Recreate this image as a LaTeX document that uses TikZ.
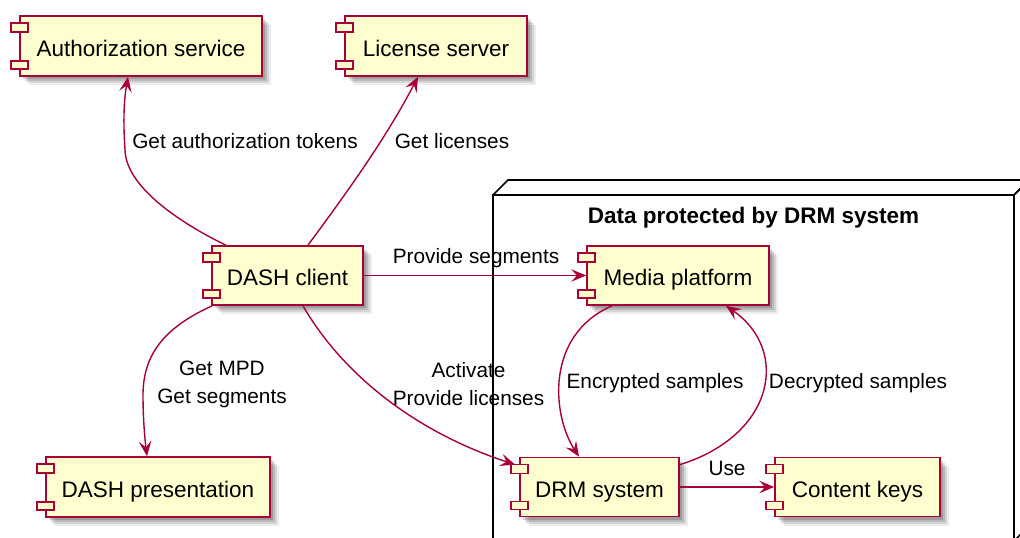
\documentclass[tikz,border=0pt]{standalone}
\usepackage{fontspec}
\setmainfont{Liberation Sans}
\usetikzlibrary{arrows.meta,shadows}
\definecolor{umlborder}{HTML}{A80036}
\definecolor{umlfill}{HTML}{FEFECE}
\tikzset{
  comp/.style={draw=umlborder, fill=umlfill, line width=1.7pt, inner sep=0pt,
    minimum height=59pt, font=\fontsize{22.5}{27}\selectfont, text=black,
    text height=20pt, text depth=0pt,
    drop shadow={shadow xshift=9pt, shadow yshift=-9pt, opacity=0.07, fill=black},
    drop shadow={shadow xshift=7pt, shadow yshift=-7pt, opacity=0.10, fill=black},
    drop shadow={shadow xshift=5pt, shadow yshift=-5pt, opacity=0.13, fill=black},
    drop shadow={shadow xshift=3pt, shadow yshift=-3pt, opacity=0.15, fill=black}},
  tabst/.style={draw=umlborder, fill=umlfill, line width=1.5pt},
  edge/.style={draw=umlborder, line width=1.4pt,
    -{Stealth[length=15pt,width=12.5pt,inset=6pt]}},
  lbl/.style={font=\fontsize{20.8}{28}\selectfont, inner sep=0pt, align=center, text=black},
  pkgline/.style={draw=black, line width=1.6pt, line join=miter},
  pkgtitle/.style={font=\fontsize{22.5}{27}\selectfont\bfseries, inner sep=0pt}
}
\begin{document}
\begin{tikzpicture}[x=1pt,y=-1pt]
\useasboundingbox (0,0) rectangle (1020,538);
\clip (0,0) rectangle (1020,538);
% package (3D node)
\draw[pkgline, fill=white] (493,195) rectangle (1014,541);
\draw[pkgline] (493,195) -- (508,180) -- (1029,180) -- (1014,195);
\draw[pkgline] (1014,195) -- (1029,180) -- (1029,526) -- (1014,541);
\node[pkgtitle] (title) at (753.5,218) {Data protected by DRM system};
% components
\node[comp, minimum width=242pt, minimum height=60pt] (auth) at (141,46) {Authorization service};
\node[comp, minimum width=182pt, minimum height=60pt] (lic) at (436,46) {License server};
\node[comp, minimum width=151pt] (client) at (287.5,275.5) {DASH client};
\node[comp, minimum width=224pt, minimum height=60pt] (pres) at (158,487) {DASH presentation};
\node[comp, minimum width=182pt] (media) at (678,275.5) {Media platform};
\node[comp, minimum width=159pt] (drm) at (599.5,487) {DRM system};
\node[comp, minimum width=165pt] (keys) at (857.5,487) {Content keys};
\foreach \n in {auth,lic,client,pres,media,drm,keys}{
  \draw[tabst] ([xshift=-8pt,yshift=-8pt]\n.north west) rectangle ([xshift=9pt,yshift=-17pt]\n.north west);
  \draw[tabst] ([xshift=-8pt,yshift=8pt]\n.south west) rectangle ([xshift=9pt,yshift=16pt]\n.south west);
}
% connectors
\draw[edge] ([xshift=-61.5pt]client.north) .. controls (190,228) and (126,190) .. (125,150)
  .. controls (123,120) and (124,100) .. ([xshift=-13pt]auth.south);
\draw[edge] ([xshift=20.5pt]client.north) .. controls (345,195) and (385,140) .. ([xshift=-18pt]lic.south);
\draw[edge] (client) -- (media);
\draw[edge] ([xshift=1pt]client.south west) .. controls (170,325) and (143,350) .. (143,395)
  .. controls (143,420) and (145,440) .. ([xshift=-11pt]pres.north);
\draw[edge] ([xshift=15.5pt]client.south) .. controls (340,370) and (410,430) .. ([xshift=-4pt,yshift=-8pt]drm.north west);
\draw[edge] ([xshift=-66pt]media.south) .. controls (545,335) and (552,415) .. ([xshift=-20.5pt]drm.north);
\draw[edge] ([yshift=-8pt]drm.north east) .. controls (775,435) and (790,350) .. ([xshift=48pt]media.south);
\draw[edge] (drm) -- (keys);
% labels
\node[lbl] (l1) at (245,141) {Get authorization tokens};
\node[lbl] (l2) at (452,141) {Get licenses};
\node[lbl] (l3) at (476,258) {Provide segments};
\node[lbl] (l4) at (222,384) {Get MPD\\Get segments};
\node[lbl] (l5) at (468.5,384) {Activate\\Provide licenses};
\node[lbl] (l6) at (655,383) {Encrypted samples};
\node[lbl] (l7) at (858,383) {Decrypted samples};
\node[lbl] (l8) at (727,468) {Use};
\end{tikzpicture}
\end{document}
